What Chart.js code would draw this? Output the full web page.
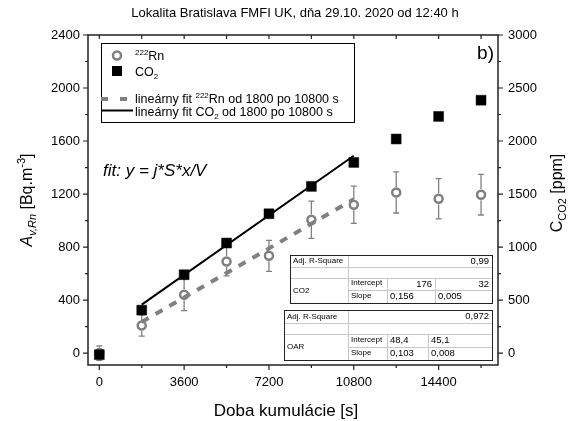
<!DOCTYPE html>
<html>
<head>
<meta charset="utf-8">
<script src="https://cdn.jsdelivr.net/npm/chart.js@4.4.0/dist/chart.umd.min.js"></script>
<style>
  html, body { margin: 0; padding: 0; background: #fff; }
  #wrap { width: 570px; height: 421px; }
</style>
</head>
<body>
<div id="wrap"><canvas id="graf" width="570" height="421"></canvas></div>
<script>
// cas kumulacie [s]
var times = [0, 1800, 3600, 5400, 7200, 9000, 10800, 12600, 14400, 16200];
// objemova aktivita radonu [Bq.m-3] a jej neistota
var radon = [0, 208, 440, 691, 734, 1006, 1119, 1212, 1165, 1195];
var radonErr = [55, 80, 120, 108, 117, 140, 141, 155, 152, 153];
// koncentracia CO2 [ppm]
var co2 = [-15, 405, 739, 1038, 1314, 1572, 1798, 2019, 2232, 2385];

var xTicks = [0, 3600, 7200, 10800, 14400];
var leftTicks = [0, 400, 800, 1200, 1600, 2000, 2400];
var rightTicks = [0, 500, 1000, 1500, 2000, 2500, 3000];

// linearne fity: [intercept, slope], chyby, adj. R^2
var fitRange = [1800, 10800];
var fitCO2 = [176, 0.156];
var fitCO2Err = [32, 0.005];
var fitRn = [48.4, 0.103];
var fitRnErr = [45.1, 0.008];
var adjR2 = [0.99, 0.972];

var GREY = "#808080";
var FONT = "'Liberation Sans', Arial, sans-serif";

function pts(ys) {
  return times.map(function (t, i) { return { x: t, y: ys[i] }; });
}
function fitLine(p) {
  return fitRange.map(function (t) { return { x: t, y: p[0] + p[1] * t }; });
}
function cz(v) { return String(v).replace(".", ","); }

function richText(ctx, parts, x, y, align) {
  var w = 0;
  parts.forEach(function (p) { ctx.font = p[1]; w += ctx.measureText(p[0]).width; });
  var cx = align === "center" ? x - w / 2 : x;
  parts.forEach(function (p) {
    ctx.font = p[1];
    ctx.fillText(p[0], cx, y + (p[2] || 0));
    cx += ctx.measureText(p[0]).width;
  });
}

function drawTable(ctx, rows, cols, label, r2, icp, slope, alignIcp) {
  var x0 = cols[0], x1 = cols[4], y0 = rows[0], y1 = rows[4];
  ctx.fillStyle = "#fff";
  ctx.fillRect(x0, y0, x1 - x0, y1 - y0);
  ctx.strokeStyle = "#c8c8c8";
  ctx.lineWidth = 1;
  ctx.beginPath();
  ctx.moveTo(x0, rows[1] + 0.5); ctx.lineTo(x1, rows[1] + 0.5);
  ctx.moveTo(x0, rows[2] + 0.5); ctx.lineTo(x1, rows[2] + 0.5);
  ctx.moveTo(cols[1], rows[3] + 0.5); ctx.lineTo(x1, rows[3] + 0.5);
  ctx.moveTo(cols[1] + 0.5, y0); ctx.lineTo(cols[1] + 0.5, y1);
  ctx.moveTo(cols[2] + 0.5, rows[2]); ctx.lineTo(cols[2] + 0.5, y1);
  ctx.moveTo(cols[3] + 0.5, rows[2]); ctx.lineTo(cols[3] + 0.5, y1);
  ctx.stroke();
  ctx.strokeStyle = "#222";
  ctx.strokeRect(x0 + 0.5, y0 + 0.5, x1 - x0, y1 - y0);

  ctx.fillStyle = "#000";
  ctx.textBaseline = "middle";
  var small = "8px " + FONT, num = "9.5px " + FONT;
  var m1 = (rows[0] + rows[1]) / 2, m3 = (rows[2] + rows[3]) / 2, m4 = (rows[3] + rows[4]) / 2;
  ctx.font = small; ctx.textAlign = "left";
  ctx.fillText("Adj. R-Square", x0 + 3, m1);
  ctx.fillText(label, x0 + 3, (rows[2] + rows[4]) / 2);
  ctx.fillText("Intercept", cols[1] + 3, m3 - 1);
  ctx.fillText("Slope", cols[1] + 3, m4 - 1);
  ctx.font = num;
  ctx.textAlign = "right";
  ctx.fillText(cz(r2), x1 - 3, m1);
  if (alignIcp === "right") {
    ctx.fillText(cz(icp[0]), cols[3] - 3, m3);
    ctx.fillText(cz(icp[1]), x1 - 3, m3);
  } else {
    ctx.textAlign = "left";
    ctx.fillText(cz(icp[0]), cols[2] + 3, m3);
    ctx.fillText(cz(icp[1]), cols[3] + 3, m3);
  }
  ctx.textAlign = "left";
  ctx.fillText(cz(slope[0]), cols[2] + 3, m4);
  ctx.fillText(cz(slope[1]), cols[3] + 3, m4);
}

var decor = {
  id: "decor",
  beforeDatasetsDraw: function (chart) {
    // chybove useky radonu
    var ctx = chart.ctx, ys = chart.scales.y, meta = chart.getDatasetMeta(0);
    ctx.save();
    ctx.strokeStyle = GREY;
    ctx.lineWidth = 1.3;
    meta.data.forEach(function (pt, i) {
      var top = ys.getPixelForValue(radon[i] + radonErr[i]);
      var bot = ys.getPixelForValue(radon[i] - radonErr[i]);
      ctx.beginPath();
      ctx.moveTo(pt.x, top); ctx.lineTo(pt.x, pt.y - 5.5);
      ctx.moveTo(pt.x, pt.y + 5.5); ctx.lineTo(pt.x, bot);
      ctx.moveTo(pt.x - 3, top); ctx.lineTo(pt.x + 3, top);
      ctx.moveTo(pt.x - 3, bot); ctx.lineTo(pt.x + 3, bot);
      ctx.stroke();
    });
    ctx.restore();
  },
  afterDraw: function (chart) {
    var ctx = chart.ctx, a = chart.chartArea;
    var xs = chart.scales.x, yl = chart.scales.y, yr = chart.scales.y2;
    ctx.save();

    // ram a ciarky osi
    ctx.strokeStyle = "#222";
    ctx.lineWidth = 1.5;
    ctx.strokeRect(a.left, a.top, a.right - a.left, a.bottom - a.top);
    ctx.lineWidth = 1.2;
    ctx.beginPath();
    for (var v = 0; v <= 16200; v += 1800) {
      var px = xs.getPixelForValue(v);
      var len = v % 3600 === 0 ? 5 : 3;
      ctx.moveTo(px, a.bottom); ctx.lineTo(px, a.bottom + len);
      ctx.moveTo(px, a.top); ctx.lineTo(px, a.top + 4);
    }
    for (v = 0; v <= 2400; v += 200) {
      var py = yl.getPixelForValue(v);
      ctx.moveTo(a.left, py); ctx.lineTo(a.left - (v % 400 === 0 ? 5 : 3), py);
    }
    for (v = 0; v <= 3000; v += 250) {
      py = yr.getPixelForValue(v);
      ctx.moveTo(a.right, py); ctx.lineTo(a.right + (v % 500 === 0 ? 5 : 3), py);
    }
    ctx.stroke();

    // nadpis a popisy osi
    ctx.fillStyle = "#000";
    ctx.textBaseline = "alphabetic";
    ctx.textAlign = "left";
    richText(ctx, [["Lokalita Bratislava FMFI UK, dňa 29.10. 2020 od 12:40 h", "13px " + FONT]], 295, 17, "center");
    richText(ctx, [["Doba kumulácie [s]", "17px " + FONT]], 286, 416, "center");

    ctx.save();
    ctx.translate(32, 200);
    ctx.rotate(-Math.PI / 2);
    richText(ctx, [
      ["A", "italic 16px " + FONT],
      ["v,Rn", "italic 11px " + FONT, 4],
      [" [Bq.m", "16px " + FONT],
      ["-3", "11px " + FONT, -7],
      ["]", "16px " + FONT]
    ], 0, 0, "center");
    ctx.restore();

    ctx.save();
    ctx.translate(562, 193);
    ctx.rotate(-Math.PI / 2);
    richText(ctx, [
      ["C", "16px " + FONT],
      ["CO2", "11px " + FONT, 4],
      [" [ppm]", "16px " + FONT]
    ], 0, 0, "center");
    ctx.restore();

    // legenda
    ctx.fillStyle = "#fff";
    ctx.fillRect(101, 43, 253, 79);
    ctx.strokeStyle = "#000";
    ctx.lineWidth = 1;
    ctx.strokeRect(101.5, 43.5, 253, 79);
    ctx.strokeStyle = GREY;
    ctx.lineWidth = 2.5;
    ctx.beginPath(); ctx.arc(117, 55.5, 4, 0, 2 * Math.PI); ctx.stroke();
    ctx.fillStyle = "#000";
    ctx.fillRect(112, 66, 10, 10);
    ctx.strokeStyle = GREY;
    ctx.lineWidth = 4;
    ctx.setLineDash([7, 12]);
    ctx.beginPath(); ctx.moveTo(101, 99); ctx.lineTo(131, 99); ctx.stroke();
    ctx.setLineDash([]);
    ctx.strokeStyle = "#000";
    ctx.lineWidth = 2;
    ctx.beginPath(); ctx.moveTo(101, 110.5); ctx.lineTo(133, 110.5); ctx.stroke();

    ctx.fillStyle = "#000";
    var lf = "12.5px " + FONT, ls = "8px " + FONT;
    richText(ctx, [["222", ls, -5], ["Rn", lf]], 135, 60);
    richText(ctx, [["CO", lf], ["2", ls, 3]], 135, 76);
    richText(ctx, [["lineárny fit ", lf], ["222", ls, -5], ["Rn od 1800 po 10800 s", lf]], 135, 103);
    richText(ctx, [["lineárny fit CO", lf], ["2", ls, 3], [" od 1800 po 10800 s", lf]], 135, 116);

    ctx.textAlign = "right";
    ctx.font = "19px " + FONT;
    ctx.fillText("b)", 494, 59);
    ctx.textAlign = "left";
    ctx.font = "italic 17px " + FONT;
    ctx.fillText("fit: y = j*S*x/V", 103, 176);

    // tabulky fitov
    drawTable(ctx, [255, 267, 278, 290, 303], [290, 348, 387, 435, 492], "CO2", adjR2[0],
      [fitCO2[0], fitCO2Err[0]], [fitCO2[1], fitCO2Err[1]], "right");
    drawTable(ctx, [310, 323, 334, 347, 360], [284, 348, 387, 428, 492], "OAR", adjR2[1],
      [fitRn[0], fitRnErr[0]], [fitRn[1], fitRnErr[1]], "left");
    ctx.restore();
  }
};

function fixed(list) {
  return function (s) { s.ticks = list.map(function (v) { return { value: v }; }); };
}
function plain(v) { return String(v); }
var tickFont = { size: 13, family: FONT };

new Chart("graf", {
  type: "scatter",
  data: {
    datasets: [
      {
        label: "222Rn",
        data: pts(radon),
        yAxisID: "y",
        pointStyle: "circle",
        pointRadius: 4,
        borderWidth: 2.5,
        borderColor: GREY,
        backgroundColor: "rgba(0,0,0,0)",
        order: 1
      },
      {
        label: "CO2",
        data: pts(co2),
        yAxisID: "y2",
        pointStyle: "rect",
        pointRadius: 7,
        borderWidth: 0.5,
        borderColor: "#000",
        backgroundColor: "#000",
        order: 0
      },
      {
        label: "lineárny fit 222Rn",
        type: "line",
        data: fitLine(fitRn),
        yAxisID: "y",
        borderColor: GREY,
        borderWidth: 4,
        borderDash: [8, 8],
        pointRadius: 0,
        order: 3
      },
      {
        label: "lineárny fit CO2",
        type: "line",
        data: fitLine(fitCO2),
        yAxisID: "y2",
        borderColor: "#000",
        borderWidth: 2,
        pointRadius: 0,
        order: 2
      }
    ]
  },
  options: {
    responsive: false,
    animation: false,
    layout: { padding: { top: 35, left: 0, right: 0, bottom: 0 } },
    plugins: {
      legend: { display: false },
      title: { display: false },
      tooltip: { enabled: false }
    },
    scales: {
      x: {
        type: "linear",
        min: -480,
        max: 16920,
        afterBuildTicks: fixed(xTicks),
        afterFit: function (s) { s.height = 56; },
        grid: { display: false, drawTicks: false },
        border: { display: false },
        ticks: { padding: 10, font: tickFont, color: "#000", maxRotation: 0, callback: plain }
      },
      y: {
        position: "left",
        min: -90,
        max: 2400,
        afterBuildTicks: fixed(leftTicks),
        afterFit: function (s) { s.width = 88; },
        grid: { display: false, drawTicks: false },
        border: { display: false },
        ticks: { padding: 8, font: tickFont, color: "#000", callback: plain }
      },
      y2: {
        position: "right",
        min: -112.5,
        max: 3000,
        afterBuildTicks: fixed(rightTicks),
        afterFit: function (s) { s.width = 72; },
        grid: { display: false, drawTicks: false },
        border: { display: false },
        ticks: { padding: 10, font: tickFont, color: "#000", callback: plain }
      }
    }
  },
  plugins: [decor]
});
</script>
</body>
</html>
